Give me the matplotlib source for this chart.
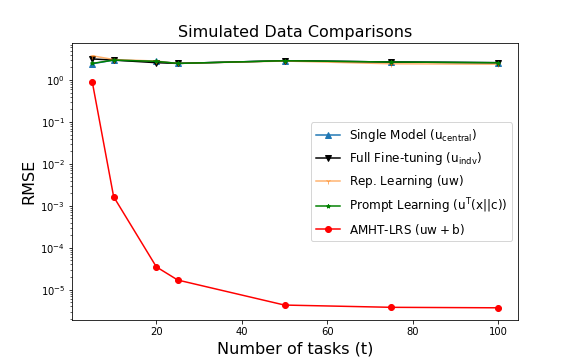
import numpy as np
import matplotlib
matplotlib.use('Agg')
import matplotlib.pyplot as plt

# --- data ---
num_tasks = [5, 10, 20, 25, 50, 75, 100]

single_model = [2.45, 3.0, 2.8, 2.5, 2.9, 2.7, 2.6]
full_finetune = [3.2, 3.0, 2.6, 2.5, 2.9, 2.7, 2.6]
rep_learning = [3.8, 3.1, 2.85, 2.5, 2.85, 2.45, 2.4]
prompt_learning = [2.5, 3.0, 2.8, 2.5, 2.9, 2.7, 2.6]
amht_lrs = [0.9, 1.65e-3, 3.5e-5, 1.7e-5, 4.3e-6, 3.8e-6, 3.7e-6]

fig = plt.figure(figsize=(8, 5), dpi=72)
ax = plt.gca()

ax.plot(num_tasks, single_model, marker='^', color='C0',
        label=r'Single Model ($\mathrm{u_{central}}$)')
ax.plot(num_tasks, full_finetune, marker='v', color='k',
        label=r'Full Fine-tuning ($\mathrm{u_{indv}}$)')
ax.plot(num_tasks, rep_learning, marker='1', color='C1', alpha=0.6,
        label=r'Rep. Learning ($\mathrm{uw}$)')
ax.plot(num_tasks, prompt_learning, marker='*', markersize=4, color='g',
        label=r'Prompt Learning ($\mathrm{u^T(x||c)}$)')
ax.plot(num_tasks, amht_lrs, marker='o', color='r',
        label=r'AMHT-LRS ($\mathrm{uw+b}$)')

ax.set_yscale('log')
ax.set_title('Simulated Data Comparisons', fontsize=16)
ax.set_xlabel('Number of tasks (t)', fontsize=16)
ax.set_ylabel('RMSE', fontsize=16)
ax.legend(loc='center right', fontsize=12)

plt.savefig('out.png', dpi=72)
